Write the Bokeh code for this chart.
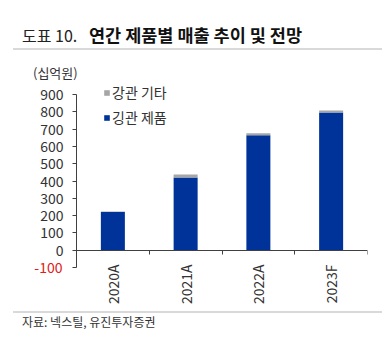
import math
from bokeh.plotting import figure
from bokeh.layouts import column
from bokeh.models import (ColumnDataSource, Range1d, LinearAxis, FixedTicker, Legend,
                          LegendItem, Div)
from bokeh.embed import file_html
from bokeh.resources import INLINE

categories = ["2020A", "2021A", "2022A", "2023F"]
pipe_products = [221, 420, 664, 796]   # 깅관 제품
pipe_other = [2, 17, 12, 11]           # 강관 기타
y_ticks = [-100, 0, 100, 200, 300, 400, 500, 600, 700, 800, 900]

FONT = "Noto Sans CJK KR"
BLUE = "#003399"
GRAY = "#A6A6A6"
TXT = "#333333"

W = 376
FRAME_W, FRAME_H = 291, 187
PX_PER_UNIT = 173 / 1000
TOP_PAD_PX = 14
y_end = y_ticks[-1] + TOP_PAD_PX / PX_PER_UNIT

x_centers = [i + 0.5 for i in range(len(categories))]
source = ColumnDataSource(dict(x=x_centers, prod=pipe_products, other=pipe_other))

p = figure(output_backend="svg", toolbar_location=None,
           x_range=Range1d(0, len(categories)), y_range=Range1d(y_ticks[0], y_end),
           x_axis_type=None, frame_width=FRAME_W, frame_height=FRAME_H,
           min_border_left=68, min_border_right=W - 68 - FRAME_W,
           min_border_top=0, min_border_bottom=36)
p.xgrid.visible = False
p.ygrid.visible = False
p.outline_line_color = None

rs = p.vbar_stack(["prod", "other"], x="x", width=0.33, color=[BLUE, GRAY],
                  line_color=None, source=source)

# y axis
ya = p.yaxis[0]
ya.ticker = FixedTicker(ticks=y_ticks)
ya.bounds = (y_ticks[0], y_ticks[-1])
ya.major_label_overrides = {y_ticks[0]: ""}
ya.major_tick_out = 4
ya.major_tick_in = 0
ya.minor_tick_line_color = None
ya.axis_line_color = "#404040"
ya.major_tick_line_color = "#404040"
ya.major_label_text_font = FONT
ya.major_label_text_font_size = "14px"
ya.major_label_text_color = TXT
ya.major_label_standoff = 9

# red negative label
ra = LinearAxis(ticker=FixedTicker(ticks=[y_ticks[0]]))
ra.major_label_overrides = {y_ticks[0]: str(y_ticks[0])}
ra.axis_line_color = None
ra.major_tick_line_color = None
ra.minor_tick_line_color = None
ra.major_label_standoff = -31
ra.major_label_text_font = FONT
ra.major_label_text_font_size = "14px"
ra.major_label_text_color = "#E02020"
p.add_layout(ra, "left")

# category labels next to the zero line
ca = LinearAxis(ticker=FixedTicker(ticks=x_centers))
ca.major_label_overrides = {c: lab for c, lab in zip(x_centers, categories)}
ca.axis_line_color = None
ca.major_tick_line_color = None
ca.minor_tick_line_color = None
ca.major_label_orientation = math.pi / 2
ca.major_label_standoff = -9
ca.major_label_text_font = FONT
ca.major_label_text_font_size = "14px"
ca.major_label_text_color = TXT
p.add_layout(ca, "below")

# zero axis with boundary ticks
bounds_x = list(range(len(categories) + 1))
za = LinearAxis(fixed_location=0, ticker=FixedTicker(ticks=bounds_x))
za.major_label_overrides = {b: "" for b in bounds_x}
za.major_tick_out = 4
za.major_tick_in = 0
za.minor_tick_line_color = None
za.axis_line_color = "#404040"
za.major_tick_line_color = "#404040"
za.major_label_standoff = 0
p.add_layout(za, "below")

legend = Legend(items=[LegendItem(label="강관 기타", renderers=[rs[1]]),
                       LegendItem(label="깅관 제품", renderers=[rs[0]])],
                location=(27, 140), orientation="vertical",
                glyph_width=7, glyph_height=7, label_height=17, spacing=5,
                label_standoff=2, padding=0, margin=0,
                border_line_color=None, background_fill_alpha=0,
                label_text_font=FONT, label_text_font_size="14px",
                label_text_color=TXT)
p.add_layout(legend)

ff = "font-family:'Noto Sans CJK KR',sans-serif;white-space:nowrap;"
header = Div(width=W, height=72, margin=0, text=(
    f'<div style="position:relative;width:{W}px;height:72px;{ff}">'
    '<span style="position:absolute;left:14px;top:17px;line-height:20px;font-size:16px;color:#222;">도표 10.</span>'
    '<span style="position:absolute;left:81px;top:17px;line-height:20px;font-size:17.5px;font-weight:bold;color:#111;">연간 제품별 매출 추이 및 전망</span>'
    '<div style="position:absolute;left:5px;top:40px;width:369px;height:2px;background:#D9D9D9;"></div>'
    '<span style="position:absolute;left:25px;top:56px;line-height:17px;font-size:13px;color:#333;">(십억원)</span>'
    '</div>'))
footer = Div(width=W, height=50, margin=0, text=(
    f'<div style="position:relative;width:{W}px;height:50px;{ff}">'
    '<div style="position:absolute;left:5px;top:4px;width:369px;height:2px;background:#D9D9D9;"></div>'
    '<span style="position:absolute;left:14px;top:7px;line-height:16px;font-size:12px;color:#333;">자료: 넥스틸, 유진투자증권</span>'
    '</div>'))

layout = column(header, p, footer, spacing=0, margin=(8, 0, 0, 8))
open("out.html", "w").write(file_html(layout, INLINE))
